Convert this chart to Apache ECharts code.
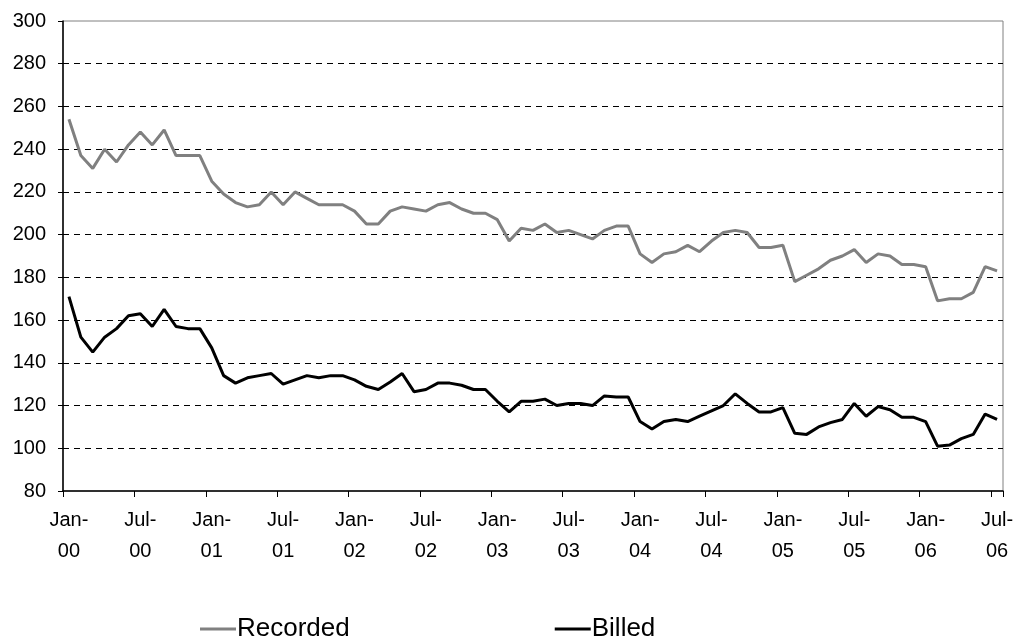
<!DOCTYPE html>
<html>
<head>
<meta charset="utf-8">
<script src="https://cdn.jsdelivr.net/npm/echarts@6/dist/echarts.min.js"></script>
<style>
  html, body { margin: 0; padding: 0; background: #fff; }
  #main { width: 1018px; height: 641px; }
</style>
</head>
<body>
<div id="main"></div>
<script>
// month labels Jan-00 .. Jul-06
const monthNames = ['Jan', 'Feb', 'Mar', 'Apr', 'May', 'Jun', 'Jul', 'Aug', 'Sep', 'Oct', 'Nov', 'Dec'];
const categories = [];
for (let y = 0; y <= 6; y++) {
  for (let m = 0; m < 12; m++) {
    if (y === 6 && m > 6) break;
    categories.push(monthNames[m] + '-0' + y);
  }
}

const recorded = [
  254, 237, 231, 240, 234, 242, 248, 242, 249, 237, 237, 237,
  225, 219, 215, 213, 214, 220, 214, 220, 217, 214, 214, 214,
  211, 205, 205, 211, 213, 212, 211, 214, 215, 212, 210, 210,
  207, 197, 203, 202, 205, 201, 202, 200, 198, 202, 204, 204,
  191, 187, 191, 192, 195, 192, 197, 201, 202, 201, 194, 194,
  195, 178, 181, 184, 188, 190, 193, 187, 191, 190, 186, 186,
  185, 169, 170, 170, 173, 185, 183
];

const billed = [
  171, 152, 145, 152, 156, 162, 163, 157, 165, 157, 156, 156,
  147, 134, 130.5, 133, 134, 135, 130, 132, 134, 133, 134, 134,
  132, 129, 127.5, 131, 135, 126.5, 127.5, 130.5, 130.5, 129.5, 127.5, 127.5,
  122, 117, 122, 122, 123, 120, 121, 121, 120, 124.5, 124, 124,
  112.5, 109, 112.5, 113.5, 112.5, 115, 117.5, 120, 125.5, 121, 117, 117,
  119, 107, 106.5, 110, 112, 113.5, 121, 115, 119.5, 118, 114.5, 114.5,
  112.5, 101, 101.5, 104.5, 106.5, 116, 113.5
];

const chart = echarts.init(document.getElementById('main'));

const option = {
  animation: false,
  textStyle: { fontFamily: 'Liberation Sans, Arial, sans-serif' },
  legend: {
    data: ['Recorded', 'Billed'],
    left: 195,
    top: 611,
    itemWidth: 36,
    itemHeight: 3,
    itemGap: 205,
    icon: 'rect',
    textStyle: { fontSize: 26, color: '#000', padding: [0, 0, 0, -4] }
  },
  grid: {
    left: 63,
    right: 15,
    top: 21,
    bottom: 150,
    show: true,
    borderColor: '#808080',
    borderWidth: 1
  },
  xAxis: {
    type: 'category',
    data: categories,
    boundaryGap: true,
    axisLine: { lineStyle: { color: '#000', width: 1.5 } },
    axisTick: { show: true, interval: 5, length: 6, lineStyle: { color: '#000', width: 1 } },
    axisLabel: {
      interval: 5,
      margin: 14,
      fontSize: 20,
      lineHeight: 31,
      color: '#000',
      formatter: function (v) { return v.replace('-', '-\n'); }
    },
    splitLine: { show: false }
  },
  yAxis: {
    type: 'value',
    min: 80,
    max: 300,
    interval: 20,
    axisLine: { show: true, lineStyle: { color: '#000', width: 1.5 } },
    axisTick: { show: true, length: 5, lineStyle: { color: '#000' } },
    axisLabel: { fontSize: 20, color: '#000', margin: 17 },
    splitLine: {
      show: true,
      showMinLine: false,
      showMaxLine: false,
      lineStyle: { color: '#000', width: 1, type: [6, 5] }
    }
  },
  series: [
    {
      name: 'Recorded',
      type: 'line',
      data: recorded,
      showSymbol: false,
      symbol: 'none',
      color: '#808080',
      lineStyle: { color: '#808080', width: 3 }
    },
    {
      name: 'Billed',
      type: 'line',
      data: billed,
      showSymbol: false,
      symbol: 'none',
      color: '#000',
      lineStyle: { color: '#000', width: 3 }
    }
  ]
};

chart.setOption(option);
</script>
</body>
</html>
